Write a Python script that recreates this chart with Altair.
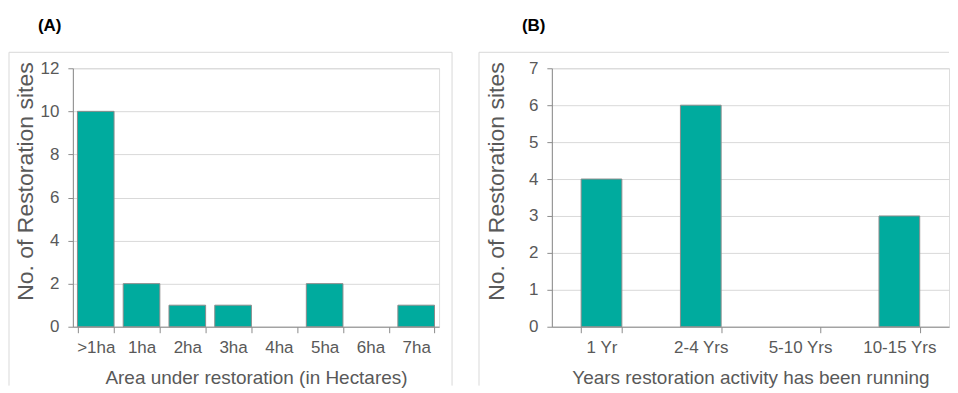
import altair as alt
import pandas as pd

# ---- data ----
area_labels = [">1ha", "1ha", "2ha", "3ha", "4ha", "5ha", "6ha", "7ha"]
area_counts = [10, 2, 1, 1, 0, 2, 0, 1]
area_ticks = [0, 2, 4, 6, 8, 10, 12]

year_labels = ["1 Yr", "2-4 Yrs", "5-10 Yrs", "10-15 Yrs"]
year_counts = [4, 6, 0, 3]
year_ticks = [0, 1, 2, 3, 4, 5, 6, 7]

FONT = "Liberation Sans"
BAR = "#00AB9E"
AXIS = "#8c8c8c"
LABEL = "#595959"
GRID = "#d9d9d9"
H = 259


def panel(labels, counts, ticks, width, x_title, tag, pad_inner, pad_outer,
          tag_x, y_title_x, border_left, border_right, right_border=True):
    df = pd.DataFrame({"cat": labels, "n": counts})
    bars = alt.Chart(df).mark_bar(color=BAR, stroke=AXIS).encode(
        x=alt.X("cat:N", sort=labels,
                scale=alt.Scale(paddingInner=pad_inner, paddingOuter=pad_outer),
                axis=alt.Axis(title=x_title, labelAngle=0, tickBand="extent",
                              domainColor=AXIS, tickColor=AXIS, tickSize=6,
                              labelColor=LABEL, labelFont=FONT, labelFontSize=17,
                              labelPadding=7, titleFont=FONT, titleFontSize=19,
                              titleFontWeight="normal", titleColor=LABEL,
                              titlePadding=13, grid=False)),
        y=alt.Y("n:Q", scale=alt.Scale(domain=[ticks[0], ticks[-1]], nice=False),
                axis=alt.Axis(title="No. of Restoration sites", values=ticks,
                              domainColor=AXIS, tickColor=AXIS, tickSize=5,
                              labelColor=LABEL, labelFont=FONT, labelFontSize=17,
                              labelPadding=9, titleFont=FONT, titleFontSize=23,
                              titleFontWeight="normal", titleColor=LABEL,
                              titleX=y_title_x, titleY=113,
                              titleBaseline="alphabetic",
                              grid=True, gridColor=GRID, gridWidth=1)),
        strokeWidth=alt.condition(alt.datum.n > 0, alt.value(1), alt.value(0)),
    )
    one = pd.DataFrame({"a": [0]})
    left = alt.Chart(one).mark_rule(color=GRID, strokeWidth=1).encode(
        x=alt.value(border_left), y=alt.value(-16), y2=alt.value(318))
    top = alt.Chart(one).mark_rule(color=GRID, strokeWidth=1).encode(
        x=alt.value(border_left), x2=alt.value(border_right), y=alt.value(-16))
    layers = [bars, left, top]
    if right_border:
        right = alt.Chart(one).mark_rule(color=GRID, strokeWidth=1).encode(
            x=alt.value(border_right), y=alt.value(-16), y2=alt.value(318))
        layers.append(right)
    label = alt.Chart(pd.DataFrame({"t": [tag]})).mark_text(
        align="left", baseline="middle", fontSize=17, fontWeight="bold",
        font=FONT, color="black").encode(
        text="t:N", x=alt.value(tag_x), y=alt.value(-42.5))
    layers.append(label)
    return alt.layer(*layers).properties(width=width, height=H)


chart_a = panel(area_labels, area_counts, area_ticks, 367,
                "Area under restoration (in Hectares)", "(A)", 0.2, 0.1,
                -35, -40, -64, 380)
chart_b = panel(year_labels, year_counts, year_ticks, 398,
                "Years restoration activity has been running", "(B)", 0.59, 0.295,
                -30, -48, -73, 398, right_border=False)

chart = alt.hconcat(chart_a, chart_b, spacing=25).properties(
    padding={"left": 0, "top": 8, "right": 0, "bottom": 0}
).configure_view(stroke=None).configure(background="white")

chart.save("out.html", embed_options={"renderer": "svg", "actions": False})
